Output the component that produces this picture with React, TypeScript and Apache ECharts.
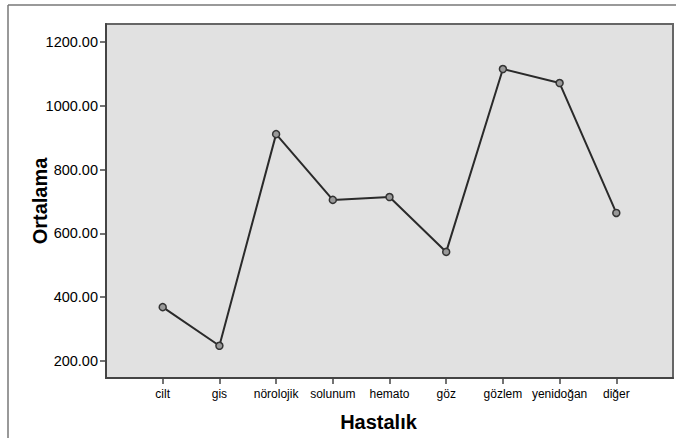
import React, { useEffect, useRef } from "react";
import * as echarts from "echarts";

const categories = ["cilt", "gis", "nörolojik", "solunum", "hemato", "göz", "gözlem", "yenidoğan", "diğer"];
const values = [369, 248, 911, 705, 714, 542, 1115, 1071, 664];
const yTicks = [200, 400, 600, 800, 1000, 1200];
const xTitle = "Hastalık";
const yTitle = "Ortalama";

export default function App() {
  const ref = useRef<HTMLDivElement>(null);
  useEffect(() => {
    if (!ref.current) return;
    const chart = echarts.init(ref.current, null, { renderer: "svg" });
    const positions = categories.map((_, i) => i + 1);
    chart.setOption({
      animation: false,
      backgroundColor: "#ffffff",
      textStyle: { fontFamily: "Liberation Sans, Arial, sans-serif" },
      graphic: [
        { type: "line", shape: { x1: 8, y1: 5, x2: 676, y2: 5 }, style: { stroke: "#777", lineWidth: 1.5 } },
        { type: "line", shape: { x1: 8, y1: 5, x2: 8, y2: 438 }, style: { stroke: "#777", lineWidth: 1.5 } },
      ],
      grid: {
        left: 106,
        top: 24,
        width: 567,
        height: 354,
        containLabel: false,
        outerBoundsMode: "none",
        show: true,
        backgroundColor: "#e1e1e1",
        borderColor: "#666",
        borderWidth: 2,
      },
      xAxis: {
        type: "value",
        min: 0,
        max: 10,
        name: xTitle,
        nameLocation: "middle",
        nameGap: 34,
        nameMoveOverlap: false,
        nameTextStyle: { fontSize: 20, fontWeight: "bold", color: "#000", padding: [0, 22, 0, 0] },
        axisLine: { show: true, lineStyle: { color: "#444", width: 2 } },
        axisTick: { show: true, length: 6, customValues: positions, lineStyle: { color: "#444", width: 1.5 } },
        axisLabel: {
          customValues: positions,
          formatter: (v: number) => categories[Math.round(v) - 1] ?? "",
          fontSize: 12,
          color: "#000",
          margin: 10,
        },
        splitLine: { show: false },
      },
      yAxis: {
        type: "value",
        min: 147,
        max: 1256,
        name: yTitle,
        nameLocation: "middle",
        nameGap: 56,
        nameRotate: 90,
        nameMoveOverlap: false,
        nameTextStyle: { fontSize: 20, fontWeight: "bold", color: "#000" },
        axisLine: { show: true, lineStyle: { color: "#444", width: 2 } },
        axisTick: { show: true, length: 6, customValues: yTicks, lineStyle: { color: "#444", width: 1.5 } },
        axisLabel: {
          customValues: yTicks,
          formatter: (v: number) => v.toFixed(2),
          fontSize: 14.5,
          color: "#000",
          margin: 8,
        },
        splitLine: { show: false },
      },
      series: [
        {
          type: "line",
          data: categories.map((_, i) => [i + 1, values[i]]),
          symbol: "circle",
          symbolSize: 7,
          lineStyle: { color: "#2a2a2a", width: 2 },
          itemStyle: { color: "#999", borderColor: "#333", borderWidth: 1.5 },
        },
      ],
    });
    return () => chart.dispose();
  }, []);
  return (
    <div
      ref={ref}
      style={{ position: "fixed", left: 0, top: 0, width: 676, height: 438 }}
    />
  );
}
